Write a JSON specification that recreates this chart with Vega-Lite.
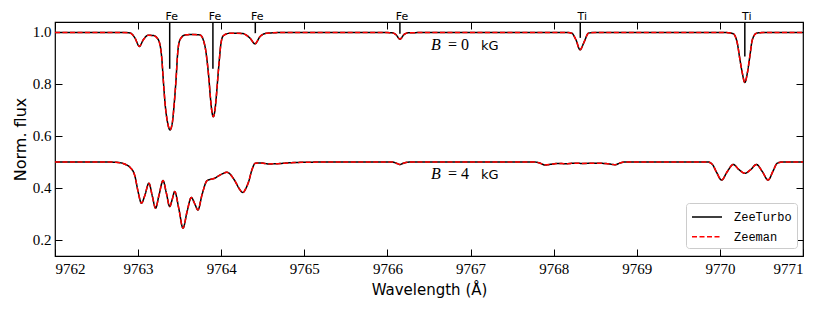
{
  "$schema": "https://vega.github.io/schema/vega-lite/v6.json",
  "autosize": {"type": "none"},
  "width": 748,
  "height": 234,
  "padding": {"left": 55, "top": 22, "right": 27, "bottom": 55},
  "background": "white",
  "config": {
    "view": {"stroke": "black", "strokeWidth": 1.2},
    "axis": {"domain": false, "grid": false, "tickColor": "black", "tickWidth": 1, "labelColor": "black", "titleColor": "black", "titleFontWeight": "normal"}
  },
  "datasets": {
    "spec": [
      {"wl": 9762.0, "f": 0.998, "B": "0"},
      {"wl": 9762.4, "f": 0.998, "B": "0"},
      {"wl": 9762.8, "f": 0.998, "B": "0"},
      {"wl": 9762.902, "f": 0.996, "B": "0"},
      {"wl": 9762.963, "f": 0.976, "B": "0"},
      {"wl": 9763.015, "f": 0.944, "B": "0"},
      {"wl": 9763.063, "f": 0.97, "B": "0"},
      {"wl": 9763.123, "f": 0.987, "B": "0"},
      {"wl": 9763.183, "f": 0.986, "B": "0"},
      {"wl": 9763.243, "f": 0.97, "B": "0"},
      {"wl": 9763.283, "f": 0.905, "B": "0"},
      {"wl": 9763.303, "f": 0.815, "B": "0"},
      {"wl": 9763.324, "f": 0.726, "B": "0"},
      {"wl": 9763.356, "f": 0.649, "B": "0"},
      {"wl": 9763.384, "f": 0.623, "B": "0"},
      {"wl": 9763.411, "f": 0.649, "B": "0"},
      {"wl": 9763.435, "f": 0.726, "B": "0"},
      {"wl": 9763.456, "f": 0.815, "B": "0"},
      {"wl": 9763.476, "f": 0.918, "B": "0"},
      {"wl": 9763.504, "f": 0.97, "B": "0"},
      {"wl": 9763.564, "f": 0.988, "B": "0"},
      {"wl": 9763.65, "f": 0.99, "B": "0"},
      {"wl": 9763.746, "f": 0.988, "B": "0"},
      {"wl": 9763.805, "f": 0.944, "B": "0"},
      {"wl": 9763.833, "f": 0.88, "B": "0"},
      {"wl": 9763.853, "f": 0.815, "B": "0"},
      {"wl": 9763.869, "f": 0.751, "B": "0"},
      {"wl": 9763.885, "f": 0.7, "B": "0"},
      {"wl": 9763.905, "f": 0.674, "B": "0"},
      {"wl": 9763.925, "f": 0.7, "B": "0"},
      {"wl": 9763.941, "f": 0.751, "B": "0"},
      {"wl": 9763.957, "f": 0.815, "B": "0"},
      {"wl": 9763.977, "f": 0.892, "B": "0"},
      {"wl": 9763.997, "f": 0.956, "B": "0"},
      {"wl": 9764.025, "f": 0.985, "B": "0"},
      {"wl": 9764.106, "f": 0.995, "B": "0"},
      {"wl": 9764.25, "f": 0.994, "B": "0"},
      {"wl": 9764.346, "f": 0.976, "B": "0"},
      {"wl": 9764.406, "f": 0.954, "B": "0"},
      {"wl": 9764.467, "f": 0.982, "B": "0"},
      {"wl": 9764.547, "f": 0.995, "B": "0"},
      {"wl": 9764.8, "f": 0.998, "B": "0"},
      {"wl": 9765.5, "f": 0.998, "B": "0"},
      {"wl": 9766.05, "f": 0.997, "B": "0"},
      {"wl": 9766.1, "f": 0.99, "B": "0"},
      {"wl": 9766.151, "f": 0.972, "B": "0"},
      {"wl": 9766.2, "f": 0.99, "B": "0"},
      {"wl": 9766.26, "f": 0.997, "B": "0"},
      {"wl": 9767.5, "f": 0.998, "B": "0"},
      {"wl": 9768.15, "f": 0.998, "B": "0"},
      {"wl": 9768.217, "f": 0.995, "B": "0"},
      {"wl": 9768.269, "f": 0.969, "B": "0"},
      {"wl": 9768.317, "f": 0.931, "B": "0"},
      {"wl": 9768.369, "f": 0.963, "B": "0"},
      {"wl": 9768.418, "f": 0.995, "B": "0"},
      {"wl": 9768.5, "f": 0.998, "B": "0"},
      {"wl": 9770.0, "f": 0.998, "B": "0"},
      {"wl": 9770.1, "f": 0.997, "B": "0"},
      {"wl": 9770.16, "f": 0.993, "B": "0"},
      {"wl": 9770.21, "f": 0.956, "B": "0"},
      {"wl": 9770.242, "f": 0.892, "B": "0"},
      {"wl": 9770.27, "f": 0.841, "B": "0"},
      {"wl": 9770.3, "f": 0.805, "B": "0"},
      {"wl": 9770.33, "f": 0.841, "B": "0"},
      {"wl": 9770.36, "f": 0.905, "B": "0"},
      {"wl": 9770.39, "f": 0.969, "B": "0"},
      {"wl": 9770.44, "f": 0.995, "B": "0"},
      {"wl": 9770.55, "f": 0.998, "B": "0"},
      {"wl": 9771.0, "f": 0.998, "B": "0"},

      {"wl": 9762.0, "f": 0.5, "B": "4"},
      {"wl": 9762.5, "f": 0.5, "B": "4"},
      {"wl": 9762.7, "f": 0.499, "B": "4"},
      {"wl": 9762.78, "f": 0.497, "B": "4"},
      {"wl": 9762.85, "f": 0.49, "B": "4"},
      {"wl": 9762.9, "f": 0.48, "B": "4"},
      {"wl": 9762.96, "f": 0.447, "B": "4"},
      {"wl": 9763.0, "f": 0.385, "B": "4"},
      {"wl": 9763.04, "f": 0.341, "B": "4"},
      {"wl": 9763.08, "f": 0.37, "B": "4"},
      {"wl": 9763.13, "f": 0.418, "B": "4"},
      {"wl": 9763.17, "f": 0.37, "B": "4"},
      {"wl": 9763.21, "f": 0.322, "B": "4"},
      {"wl": 9763.25, "f": 0.37, "B": "4"},
      {"wl": 9763.3, "f": 0.428, "B": "4"},
      {"wl": 9763.34, "f": 0.38, "B": "4"},
      {"wl": 9763.38, "f": 0.328, "B": "4"},
      {"wl": 9763.41, "f": 0.355, "B": "4"},
      {"wl": 9763.44, "f": 0.386, "B": "4"},
      {"wl": 9763.49, "f": 0.32, "B": "4"},
      {"wl": 9763.54, "f": 0.245, "B": "4"},
      {"wl": 9763.59, "f": 0.31, "B": "4"},
      {"wl": 9763.64, "f": 0.363, "B": "4"},
      {"wl": 9763.68, "f": 0.34, "B": "4"},
      {"wl": 9763.72, "f": 0.315, "B": "4"},
      {"wl": 9763.77, "f": 0.375, "B": "4"},
      {"wl": 9763.83, "f": 0.428, "B": "4"},
      {"wl": 9763.92, "f": 0.437, "B": "4"},
      {"wl": 9764.0, "f": 0.452, "B": "4"},
      {"wl": 9764.07, "f": 0.46, "B": "4"},
      {"wl": 9764.12, "f": 0.448, "B": "4"},
      {"wl": 9764.17, "f": 0.424, "B": "4"},
      {"wl": 9764.22, "f": 0.395, "B": "4"},
      {"wl": 9764.26, "f": 0.382, "B": "4"},
      {"wl": 9764.3, "f": 0.4, "B": "4"},
      {"wl": 9764.33, "f": 0.424, "B": "4"},
      {"wl": 9764.37, "f": 0.47, "B": "4"},
      {"wl": 9764.41, "f": 0.495, "B": "4"},
      {"wl": 9764.48, "f": 0.496, "B": "4"},
      {"wl": 9764.57, "f": 0.492, "B": "4"},
      {"wl": 9764.67, "f": 0.493, "B": "4"},
      {"wl": 9764.85, "f": 0.497, "B": "4"},
      {"wl": 9765.1, "f": 0.499, "B": "4"},
      {"wl": 9765.4, "f": 0.5, "B": "4"},
      {"wl": 9766.05, "f": 0.5, "B": "4"},
      {"wl": 9766.1, "f": 0.496, "B": "4"},
      {"wl": 9766.15, "f": 0.49, "B": "4"},
      {"wl": 9766.2, "f": 0.496, "B": "4"},
      {"wl": 9766.3, "f": 0.5, "B": "4"},
      {"wl": 9767.75, "f": 0.5, "B": "4"},
      {"wl": 9767.82, "f": 0.497, "B": "4"},
      {"wl": 9767.9, "f": 0.488, "B": "4"},
      {"wl": 9767.97, "f": 0.491, "B": "4"},
      {"wl": 9768.05, "f": 0.494, "B": "4"},
      {"wl": 9768.15, "f": 0.493, "B": "4"},
      {"wl": 9768.25, "f": 0.495, "B": "4"},
      {"wl": 9768.35, "f": 0.494, "B": "4"},
      {"wl": 9768.5, "f": 0.495, "B": "4"},
      {"wl": 9768.65, "f": 0.493, "B": "4"},
      {"wl": 9768.74, "f": 0.489, "B": "4"},
      {"wl": 9768.8, "f": 0.496, "B": "4"},
      {"wl": 9768.86, "f": 0.5, "B": "4"},
      {"wl": 9769.85, "f": 0.5, "B": "4"},
      {"wl": 9769.91, "f": 0.49, "B": "4"},
      {"wl": 9769.96, "f": 0.46, "B": "4"},
      {"wl": 9770.02, "f": 0.43, "B": "4"},
      {"wl": 9770.09, "f": 0.463, "B": "4"},
      {"wl": 9770.16, "f": 0.49, "B": "4"},
      {"wl": 9770.23, "f": 0.47, "B": "4"},
      {"wl": 9770.3, "f": 0.456, "B": "4"},
      {"wl": 9770.37, "f": 0.47, "B": "4"},
      {"wl": 9770.44, "f": 0.49, "B": "4"},
      {"wl": 9770.51, "f": 0.463, "B": "4"},
      {"wl": 9770.58, "f": 0.43, "B": "4"},
      {"wl": 9770.64, "f": 0.465, "B": "4"},
      {"wl": 9770.69, "f": 0.495, "B": "4"},
      {"wl": 9770.76, "f": 0.5, "B": "4"},
      {"wl": 9771.0, "f": 0.5, "B": "4"}
    ],
    "lines": [
      {"wl": 9763.38, "lo": 0.858, "el": "Fe"},
      {"wl": 9763.9, "lo": 0.858, "el": "Fe"},
      {"wl": 9764.41, "lo": 0.995, "el": "Fe"},
      {"wl": 9766.15, "lo": 0.993, "el": "Fe"},
      {"wl": 9768.32, "lo": 0.977, "el": "Ti"},
      {"wl": 9770.3, "lo": 0.905, "el": "Ti"}
    ],
    "fields": [
      {"wl": 9766.524, "f": 0.931, "val": "= 0"},
      {"wl": 9766.524, "f": 0.435, "val": "= 4"}
    ]
  },
  "resolve": {"axis": {"x": "independent", "y": "independent"}},
  "layer": [
    {
      "data": {"name": "spec"},
      "mark": {"type": "line", "interpolate": "monotone", "strokeWidth": 1.5},
      "encoding": {
        "x": {"field": "wl", "type": "quantitative", "scale": {"domain": [9762, 9771], "nice": false, "zero": false},
          "axis": {"orient": "bottom", "values": [9762, 9763, 9764, 9765, 9766, 9767, 9768, 9769, 9770, 9771], "format": "d", "tickSize": -7, "labelPadding": 12, "labelFont": "Liberation Serif", "labelFontSize": 15, "title": "Wavelength (Å)", "titleFont": "DejaVu Sans", "titleFontSize": 15, "titlePadding": 6}},
        "y": {"field": "f", "type": "quantitative", "scale": {"domain": [0.138, 1.038], "nice": false, "zero": false},
          "axis": {"orient": "left", "values": [0.2, 0.4, 0.6, 0.8, 1.0], "format": ".1f", "tickSize": -7, "labelPadding": 11, "labelFont": "Liberation Serif", "labelFontSize": 15, "title": "Norm. flux", "titleFont": "DejaVu Sans", "titleFontSize": 16, "titlePadding": 4}},
        "detail": {"field": "B"},
        "color": {"datum": "ZeeTurbo", "type": "nominal", "scale": {"domain": ["ZeeTurbo", "Zeeman"], "range": ["black", "#ff0000"]},
          "legend": {"title": null, "orient": "none", "legendX": 631, "legendY": 181, "symbolType": "M-1.875,0L1.875,0", "symbolSize": 256, "symbolStrokeWidth": 1.5, "symbolOffset": 7, "labelFont": "Liberation Mono", "labelFontSize": 12, "labelColor": "black", "padding": 5, "rowPadding": 4.7, "labelOffset": 18, "strokeColor": "#cccccc", "fillColor": "white", "cornerRadius": 3}},
        "strokeDash": {"datum": "ZeeTurbo", "type": "nominal", "scale": {"domain": ["ZeeTurbo", "Zeeman"], "range": [[1, 0], [5, 2.5]]},
          "legend": {"title": null, "orient": "none", "legendX": 631, "legendY": 181, "symbolType": "M-1.875,0L1.875,0", "symbolSize": 256, "symbolStrokeWidth": 1.5, "symbolOffset": 7, "labelFont": "Liberation Mono", "labelFontSize": 12, "labelColor": "black", "padding": 5, "rowPadding": 4.7, "labelOffset": 18, "strokeColor": "#cccccc", "fillColor": "white", "cornerRadius": 3}}
      }
    },
    {
      "data": {"name": "spec"},
      "mark": {"type": "line", "interpolate": "monotone", "strokeWidth": 1.5},
      "encoding": {
        "x": {"field": "wl", "type": "quantitative",
          "axis": {"orient": "top", "values": [9762, 9763, 9764, 9765, 9766, 9767, 9768, 9769, 9770, 9771], "tickSize": -7, "labels": false, "title": null}},
        "y": {"field": "f", "type": "quantitative",
          "axis": {"orient": "right", "values": [0.2, 0.4, 0.6, 0.8, 1.0], "tickSize": -7, "labels": false, "title": null}},
        "detail": {"field": "B"},
        "color": {"datum": "Zeeman", "type": "nominal"},
        "strokeDash": {"datum": "Zeeman", "type": "nominal"}
      }
    },
    {
      "data": {"name": "lines"},
      "mark": {"type": "rule", "color": "black", "strokeWidth": 1.5},
      "encoding": {
        "x": {"field": "wl", "type": "quantitative", "axis": null},
        "y": {"field": "lo", "type": "quantitative", "axis": null},
        "y2": {"datum": 1.038}
      }
    },
    {
      "data": {"name": "lines"},
      "mark": {"type": "text", "font": "DejaVu Sans", "fontSize": 11, "color": "black", "align": "center", "baseline": "alphabetic", "dx": 2},
      "encoding": {
        "x": {"field": "wl", "type": "quantitative", "axis": null},
        "y": {"datum": 1.047, "type": "quantitative", "axis": null},
        "text": {"field": "el"}
      }
    },
    {
      "data": {"name": "fields"},
      "mark": {"type": "text", "font": "Liberation Serif", "fontStyle": "italic", "fontSize": 16, "color": "black", "align": "left", "baseline": "alphabetic"},
      "encoding": {
        "x": {"field": "wl", "type": "quantitative", "axis": null},
        "y": {"field": "f", "type": "quantitative", "axis": null},
        "text": {"value": "B"}
      }
    },
    {
      "data": {"name": "fields"},
      "mark": {"type": "text", "font": "Liberation Serif", "fontSize": 16, "color": "black", "align": "left", "baseline": "alphabetic", "dx": 17},
      "encoding": {
        "x": {"field": "wl", "type": "quantitative", "axis": null},
        "y": {"field": "f", "type": "quantitative", "axis": null},
        "text": {"field": "val"}
      }
    },
    {
      "data": {"name": "fields"},
      "mark": {"type": "text", "font": "DejaVu Sans", "fontSize": 13, "color": "black", "align": "left", "baseline": "alphabetic", "dx": 50},
      "encoding": {
        "x": {"field": "wl", "type": "quantitative", "axis": null},
        "y": {"field": "f", "type": "quantitative", "axis": null},
        "text": {"value": "kG"}
      }
    }
  ]
}
